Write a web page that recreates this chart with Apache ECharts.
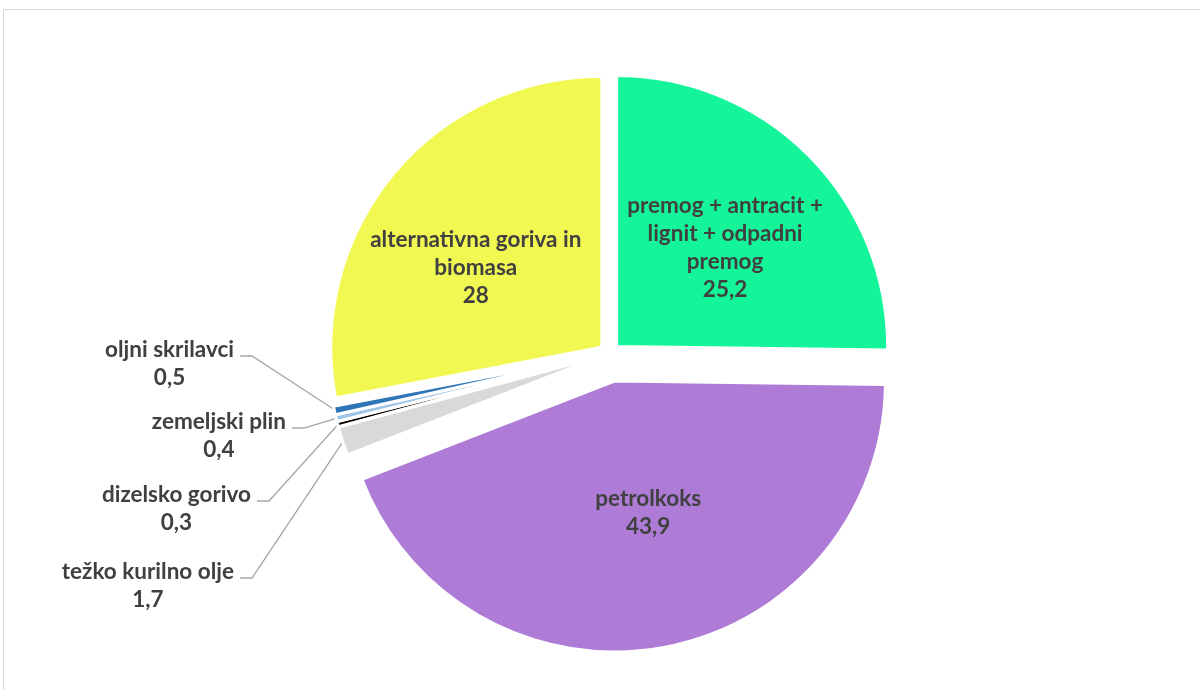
<!DOCTYPE html>
<html>
<head>
<meta charset="utf-8">
<script src="https://cdn.jsdelivr.net/npm/echarts@6/dist/echarts.min.js"></script>
<style>
  html, body { margin: 0; padding: 0; background: #ffffff; }
  #chart { width: 1200px; height: 690px; }
</style>
</head>
<body>
<div id="chart"></div>
<script>
// Fuel mix (shares in %), clockwise from 12 o'clock
const categories = [
  'premog + antracit +\nlignit + odpadni\npremog',
  'petrolkoks',
  'težko kurilno olje',
  'dizelsko gorivo',
  'zemeljski plin',
  'oljni skrilavci',
  'alternativna goriva in\nbiomasa'
];
const values = [25.2, 43.9, 1.7, 0.3, 0.4, 0.5, 28];
const colors = ['#14F59A', '#AE7CD7', '#D9D9D9', '#000000', '#9DC3E6', '#2E75B6', '#F2F852'];

const PETROL = 1;
// thin slices get their labels outside, on the left, with leader lines
const outsideIdx = [2, 3, 4, 5];
// outside label anchors: [right edge of first line, block centre y]
const outsideAnchor = {
  5: [234, 364],
  4: [286, 436],
  3: [251, 509],
  2: [234, 586]
};
// inside labels: shift from the unexploded mid-radius point
const insideShift = { 0: [17, -8], 1: [14, 23], 6: [-27, 3] };

const CENTER = [609.5, 353.5];
const R = 271;
const OFFSET_MAIN = 10;
const OFFSET_PETROL = 28;

const textStyle = {
  fontFamily: 'Lato',
  fontWeight: 'bold',
  fontSize: 22.5,
  lineHeight: 28,
  color: '#404040'
};

function fmt(p) {
  return p.name + '\n' + String(p.value).replace('.', ',');
}

const hidden = { color: 'rgba(0,0,0,0)', borderWidth: 0 };

// coloured slices of one explosion group, no labels
function sliceData(inGroup) {
  return categories.map((name, i) => ({
    name: name,
    value: values[i],
    selected: true,
    itemStyle: inGroup(i) ? { color: colors[i] } : hidden,
    label: { show: false },
    labelLine: { show: false }
  }));
}

// invisible slices carrying all labels
function labelData() {
  return categories.map((name, i) => {
    const out = outsideIdx.includes(i);
    return {
      name: name,
      value: values[i],
      itemStyle: hidden,
      label: out
        ? { show: true, position: 'outside' }
        : { show: true, position: 'inside', offset: insideShift[i] },
      labelLine: { show: out }
    };
  });
}

function layoutOutside(params) {
  const a = outsideAnchor[params.dataIndex];
  if (!a || !params.labelLinePoints) return {};
  const w = params.labelRect.width;
  const lineY = a[1] - 8;
  const p = params.labelLinePoints[0];
  // push the start of the leader out to the exploded slice edge
  const k = (R + OFFSET_MAIN - 1) / R;
  const p0 = [CENTER[0] + (p[0] - CENTER[0]) * k, CENTER[1] + (p[1] - CENTER[1]) * k];
  return {
    x: a[0] - w / 2,
    y: a[1],
    align: 'center',
    verticalAlign: 'middle',
    labelLinePoints: [p0, [a[0] + 18, lineY], [a[0] + 6, lineY]]
  };
}

function basePie(extra) {
  return Object.assign({
    type: 'pie',
    center: CENTER,
    radius: [0, R],
    startAngle: 90,
    clockwise: true,
    avoidLabelOverlap: false,
    silent: true,
    animation: false,
    itemStyle: { borderColor: '#ffffff', borderWidth: 3 },
    label: Object.assign({ formatter: fmt, align: 'center' }, textStyle),
    labelLine: { lineStyle: { color: '#A6A6A6', width: 1.3 }, length: 20, length2: 20 },
    emphasis: { disabled: true }
  }, extra);
}

const chart = echarts.init(document.getElementById('chart'), null, { renderer: 'canvas' });
chart.setOption({
  backgroundColor: '#ffffff',
  animation: false,
  graphic: [{
    type: 'rect',
    shape: { x: 3.5, y: 9.5, width: 1210, height: 700 },
    style: { fill: 'none', stroke: '#D9D9D9', lineWidth: 1 },
    silent: true
  }],
  series: [
    basePie({ selectedMode: 'multiple', selectedOffset: OFFSET_MAIN, data: sliceData(i => i !== PETROL) }),
    basePie({ selectedMode: 'multiple', selectedOffset: OFFSET_PETROL, data: sliceData(i => i === PETROL) }),
    basePie({ selectedMode: false, labelLayout: layoutOutside, data: labelData() })
  ]
});
</script>
</body>
</html>
